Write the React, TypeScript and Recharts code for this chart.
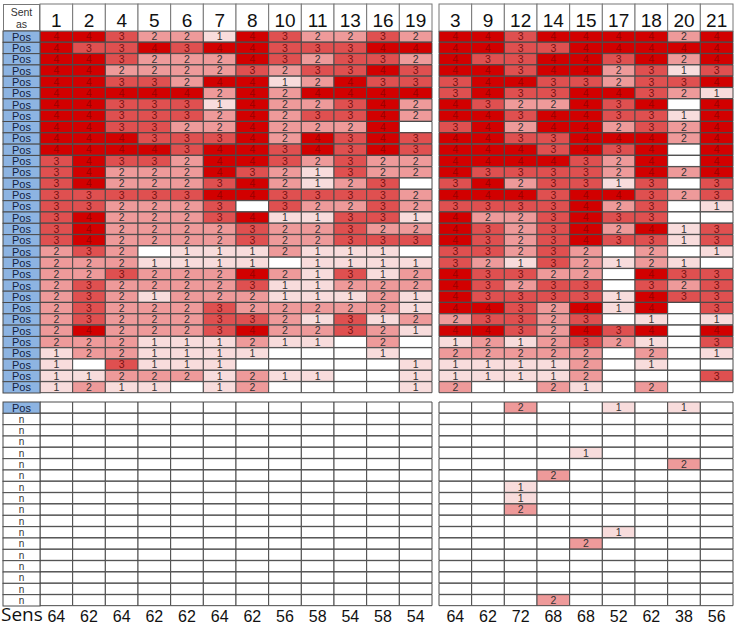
import { BarChart, Bar, XAxis, YAxis, Cell, LabelList } from 'recharts'

const leftCols = [1, 2, 4, 5, 6, 7, 8, 10, 11, 13, 16, 19]
const rightCols = [3, 9, 12, 14, 15, 17, 18, 20, 21]

const leftSens = [64, 62, 64, 62, 62, 64, 62, 56, 58, 54, 58, 54]
const rightSens = [64, 62, 72, 68, 68, 52, 62, 38, 56]

// scores per sample row (0 = empty cell)
const leftTop = [
  [4, 4, 3, 2, 2, 1, 4, 3, 2, 2, 3, 2],
  [4, 3, 3, 4, 3, 4, 4, 3, 3, 3, 4, 4],
  [4, 4, 3, 2, 2, 2, 4, 3, 2, 3, 3, 2],
  [4, 4, 2, 2, 2, 2, 3, 2, 3, 3, 4, 3],
  [4, 4, 3, 3, 2, 4, 4, 1, 2, 4, 3, 3],
  [4, 4, 4, 4, 4, 2, 4, 2, 4, 4, 4, 4],
  [4, 4, 3, 3, 3, 1, 4, 2, 2, 3, 4, 2],
  [4, 4, 3, 3, 3, 2, 4, 2, 3, 3, 4, 2],
  [4, 4, 3, 3, 2, 2, 4, 2, 2, 2, 4, 0],
  [4, 4, 4, 3, 3, 3, 4, 2, 4, 3, 4, 3],
  [4, 4, 4, 4, 3, 4, 4, 3, 4, 3, 4, 3],
  [3, 4, 3, 3, 2, 4, 4, 3, 2, 3, 2, 2],
  [3, 4, 2, 2, 2, 4, 3, 2, 1, 3, 2, 2],
  [3, 4, 2, 2, 2, 3, 4, 2, 1, 2, 3, 0],
  [3, 3, 3, 3, 3, 4, 4, 3, 3, 3, 3, 2],
  [3, 3, 2, 2, 2, 3, 0, 3, 2, 2, 3, 2],
  [3, 4, 2, 2, 2, 3, 4, 1, 1, 3, 3, 1],
  [3, 4, 2, 2, 2, 2, 3, 2, 2, 3, 2, 2],
  [3, 4, 2, 2, 2, 2, 3, 2, 2, 3, 3, 3],
  [2, 3, 2, 0, 1, 1, 1, 2, 1, 1, 1, 0],
  [2, 2, 2, 1, 1, 1, 1, 0, 1, 1, 1, 1],
  [2, 2, 3, 2, 2, 2, 4, 2, 1, 3, 1, 2],
  [2, 3, 2, 2, 2, 2, 3, 1, 1, 2, 2, 2],
  [2, 3, 2, 1, 2, 2, 2, 1, 1, 1, 2, 1],
  [2, 3, 2, 2, 2, 3, 2, 2, 2, 2, 2, 1],
  [2, 3, 2, 2, 2, 3, 3, 2, 1, 3, 1, 2],
  [2, 4, 2, 2, 2, 3, 4, 2, 2, 3, 2, 1],
  [2, 2, 2, 1, 1, 1, 2, 1, 1, 0, 2, 0],
  [1, 2, 2, 1, 1, 1, 1, 0, 0, 0, 1, 0],
  [1, 0, 3, 1, 1, 1, 0, 0, 0, 0, 0, 1],
  [1, 1, 2, 2, 2, 1, 2, 1, 1, 0, 0, 1],
  [1, 2, 1, 1, 0, 1, 2, 0, 0, 0, 0, 1],
]

const rightTop = [
  [4, 4, 3, 4, 4, 4, 4, 2, 4],
  [4, 4, 3, 3, 4, 4, 4, 4, 4],
  [4, 3, 3, 4, 4, 3, 4, 2, 4],
  [4, 4, 3, 4, 4, 2, 3, 1, 3],
  [3, 4, 4, 3, 3, 2, 3, 3, 4],
  [3, 4, 3, 3, 4, 4, 3, 2, 1],
  [4, 3, 2, 2, 4, 3, 4, 0, 4],
  [4, 4, 3, 4, 4, 3, 3, 1, 4],
  [3, 4, 2, 4, 4, 2, 3, 2, 4],
  [4, 4, 3, 3, 4, 4, 4, 2, 4],
  [4, 4, 4, 3, 4, 3, 4, 0, 4],
  [4, 4, 4, 4, 3, 2, 4, 0, 4],
  [4, 3, 3, 3, 3, 2, 4, 2, 4],
  [3, 4, 2, 3, 3, 1, 3, 0, 3],
  [4, 4, 4, 3, 4, 4, 3, 2, 3],
  [3, 3, 3, 3, 4, 2, 3, 0, 1],
  [4, 2, 2, 3, 4, 3, 3, 0, 0],
  [4, 3, 2, 3, 4, 2, 4, 1, 3],
  [4, 3, 2, 3, 4, 3, 3, 1, 3],
  [3, 3, 2, 3, 2, 0, 2, 0, 1],
  [3, 2, 1, 3, 2, 1, 2, 1, 0],
  [4, 3, 3, 2, 2, 0, 4, 3, 3],
  [4, 3, 2, 3, 3, 0, 3, 2, 3],
  [4, 3, 3, 3, 3, 1, 4, 3, 3],
  [4, 4, 3, 2, 4, 1, 4, 0, 3],
  [2, 3, 3, 2, 3, 0, 1, 0, 1],
  [4, 4, 3, 2, 4, 3, 4, 0, 4],
  [1, 2, 1, 2, 3, 2, 1, 0, 3],
  [2, 2, 2, 2, 2, 0, 2, 0, 1],
  [1, 1, 1, 1, 2, 0, 1, 0, 0],
  [1, 1, 1, 1, 2, 0, 0, 0, 3],
  [2, 0, 0, 2, 1, 0, 2, 0, 0],
]

const leftBottom = Array.from({ length: 18 }, () => leftCols.map(() => 0))

const rightBottom = [
  [0, 0, 2, 0, 0, 1, 0, 1, 0],
  [0, 0, 0, 0, 0, 0, 0, 0, 0],
  [0, 0, 0, 0, 0, 0, 0, 0, 0],
  [0, 0, 0, 0, 0, 0, 0, 0, 0],
  [0, 0, 0, 0, 1, 0, 0, 0, 0],
  [0, 0, 0, 0, 0, 0, 0, 2, 0],
  [0, 0, 0, 2, 0, 0, 0, 0, 0],
  [0, 0, 1, 0, 0, 0, 0, 0, 0],
  [0, 0, 1, 0, 0, 0, 0, 0, 0],
  [0, 0, 2, 0, 0, 0, 0, 0, 0],
  [0, 0, 0, 0, 0, 0, 0, 0, 0],
  [0, 0, 0, 0, 0, 1, 0, 0, 0],
  [0, 0, 0, 0, 2, 0, 0, 0, 0],
  [0, 0, 0, 0, 0, 0, 0, 0, 0],
  [0, 0, 0, 0, 0, 0, 0, 0, 0],
  [0, 0, 0, 0, 0, 0, 0, 0, 0],
  [0, 0, 0, 0, 0, 0, 0, 0, 0],
  [0, 0, 0, 2, 0, 0, 0, 0, 0],
]

const topLabels = leftTop.map(() => 'Pos')
const bottomLabels = ['Pos', ...Array(17).fill('n')]

const FILL = ['#ffffff', '#f8dcdc', '#ee9a9a', '#df5050', '#d20000']
const INK = ['#333', '#333', '#333', '#7a1212', '#980000']
const GRID = '#4a4a4a'
const LABEL_W = 37

function buildRows(matrix: number[][]) {
  return matrix.map((vals, i) => {
    const row: Record<string, number> = { id: i }
    vals.forEach((v, j) => {
      row[`c${j}`] = 1
      row[`v${j}`] = v
    })
    return row
  })
}

interface PanelProps {
  cols: number[]
  matrix: number[][]
  labels: string[] | null
  sens: number[] | null
  left: number
  top: number
  width: number
  height: number
}

function Panel({ cols, matrix, labels, sens, left, top, width, height }: PanelProps) {
  const data = buildRows(matrix)
  const yW = labels ? LABEL_W : 0
  const axisH = sens ? 22 : 27
  const colW = (width - 2 - yW) / cols.length
  const rowH = (height - 2 - axisH) / matrix.length
  const ticks = cols.map((_, j) => j + 0.5)

  const HeaderTick = ({ x, y, payload }: any) => {
    const idx = Math.floor(payload.value)
    return (
      <g>
        <rect x={x - colW / 2} y={y - 27} width={colW} height={27} fill="#fff" stroke="#777" />
        <text x={x} y={y - 4} textAnchor="middle" fontSize={19} fill="#111"
          fontFamily="Liberation Sans, Arial, sans-serif">{cols[idx]}</text>
      </g>
    )
  }

  const SensTick = ({ x, y, payload }: any) => {
    const idx = Math.floor(payload.value)
    return (
      <text x={x} y={y + 16} textAnchor="middle" fontSize={16} fill="#111"
        fontFamily="Liberation Sans, Arial, sans-serif">{sens ? sens[idx] : ''}</text>
    )
  }

  const RowTick = ({ x, y, payload }: any) => {
    const lab = labels ? labels[payload.value] : ''
    const isPos = lab === 'Pos'
    return (
      <g>
        <rect x={x - LABEL_W} y={y - rowH / 2} width={LABEL_W} height={rowH}
          fill={isPos ? '#8db4e2' : '#fff'} stroke={GRID} />
        <text x={x - LABEL_W / 2} y={y} dy={isPos ? 4 : 3.5} textAnchor="middle"
          fontSize={isPos ? 11 : 10} fill={isPos ? '#14213d' : '#333'}
          fontFamily="Liberation Sans, Arial, sans-serif">{lab}</text>
      </g>
    )
  }

  const CellText = (p: any) => {
    const v = Number(p.value)
    if (!v) return null
    return (
      <text x={p.x + p.width / 2} y={p.y + p.height / 2} dy={3.8} textAnchor="middle"
        fontSize={10.5} fill={INK[v]} fontFamily="Liberation Sans, Arial, sans-serif">{v}</text>
    )
  }

  return (
    <div style={{ position: 'absolute', left, top }}>
      <BarChart
        width={width}
        height={height}
        data={data}
        layout="vertical"
        barCategoryGap={0}
        margin={{ top: 1, right: 1, bottom: 1, left: 1 }}
        style={{ overflow: 'visible' }}
      >
        <XAxis
          type="number"
          domain={[0, cols.length]}
          ticks={ticks}
          orientation={sens ? 'bottom' : 'top'}
          height={axisH}
          axisLine={false}
          tickLine={false}
          tickSize={0}
          tickMargin={0}
          interval={0}
          tick={sens ? <SensTick /> : <HeaderTick />}
        />
        <YAxis
          type="category"
          dataKey="id"
          width={yW}
          hide={!labels}
          axisLine={false}
          tickLine={false}
          tickSize={0}
          tickMargin={0}
          interval={0}
          tick={<RowTick />}
        />
        {cols.map((c, j) => (
          <Bar key={c} dataKey={`c${j}`} stackId="s" isAnimationActive={false}
            stroke={GRID} strokeWidth={1}>
            {matrix.map((r, i) => (
              <Cell key={i} fill={FILL[r[j]]} />
            ))}
            <LabelList dataKey={`v${j}`} content={<CellText />} />
          </Bar>
        ))}
      </BarChart>
    </div>
  )
}

export default function App() {
  return (
    <div style={{ position: 'absolute', left: 0, top: 0, width: 737, height: 629, background: '#fff', overflow: 'hidden' }}>
      <div style={{
        position: 'absolute', left: 3, top: 4, width: 37, height: 27, boxSizing: 'border-box',
        border: '1px solid #777', background: '#fff', textAlign: 'center',
        fontFamily: 'Liberation Sans, Arial, sans-serif', fontSize: 10.5, lineHeight: '12px',
        color: '#333', paddingTop: 1, zIndex: 2,
      }}>Sent<br />as</div>
      <Panel cols={leftCols} matrix={leftTop} labels={topLabels} sens={null}
        left={2} top={3} width={431} height={391} />
      <Panel cols={rightCols} matrix={rightTop} labels={null} sens={null}
        left={438} top={3} width={296} height={391} />
      <Panel cols={leftCols} matrix={leftBottom} labels={bottomLabels} sens={leftSens}
        left={2} top={401} width={431} height={228} />
      <Panel cols={rightCols} matrix={rightBottom} labels={null} sens={rightSens}
        left={438} top={401} width={296} height={228} />
      <div style={{
        position: 'absolute', left: 1, top: 602, fontFamily: 'Open Sans, sans-serif',
        fontSize: 19, color: '#111', lineHeight: '24px',
      }}>Sens</div>
    </div>
  )
}
